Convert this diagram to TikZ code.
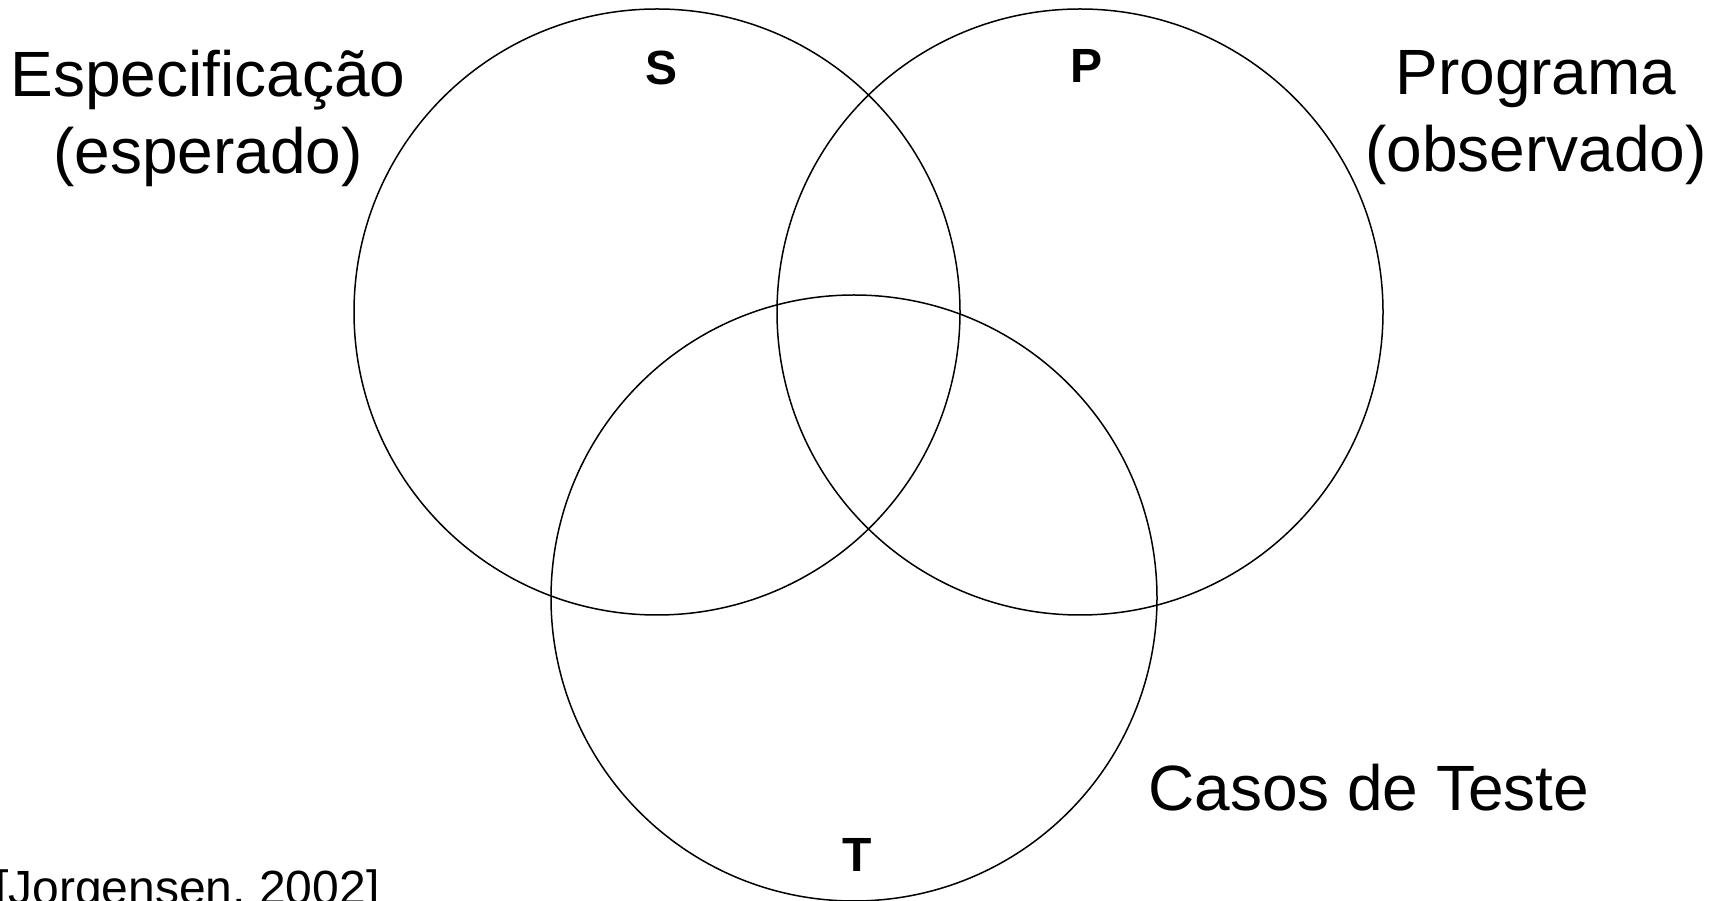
\documentclass[tikz,border=0pt]{standalone}
\usepackage{fontspec}
\setmainfont{Liberation Sans}
\begin{document}
\begin{tikzpicture}[x=1pt,y=1pt,
  venn/.style={draw=black,line width=1.5pt,circle,minimum size=606pt,inner sep=0pt},
  big/.style={font=\fontsize{64}{77}\selectfont,align=center,inner sep=0pt},
  setlbl/.style={font=\fontsize{48}{56}\selectfont\bfseries,inner sep=0pt},
  cite/.style={font=\fontsize{48}{56}\selectfont,inner sep=0pt}]
\useasboundingbox (0,0) rectangle (1727,900);
\clip (0,0) rectangle (1727,900);
\node[venn] (circS) at (657,588) {};
\node[venn] (circP) at (1080,588) {};
\node[venn] (circT) at (854,302) {};
\node[setlbl] (lS) at (662,832) {S};
\node[setlbl] (lP) at (1086,834) {P};
\node[setlbl] (lT) at (857,45) {T};
\node[big] (spec) at (208,782) {Especificação\\(esperado)};
\node[big] (prog) at (1536,782) {Programa\\(observado)};
\node[big,anchor=west] (casos) at (1148,112) {Casos de Teste};
\node[cite,anchor=base west] (jorg) at (-5,-4) {[Jorgensen, 2002]};
\end{tikzpicture}
\end{document}
